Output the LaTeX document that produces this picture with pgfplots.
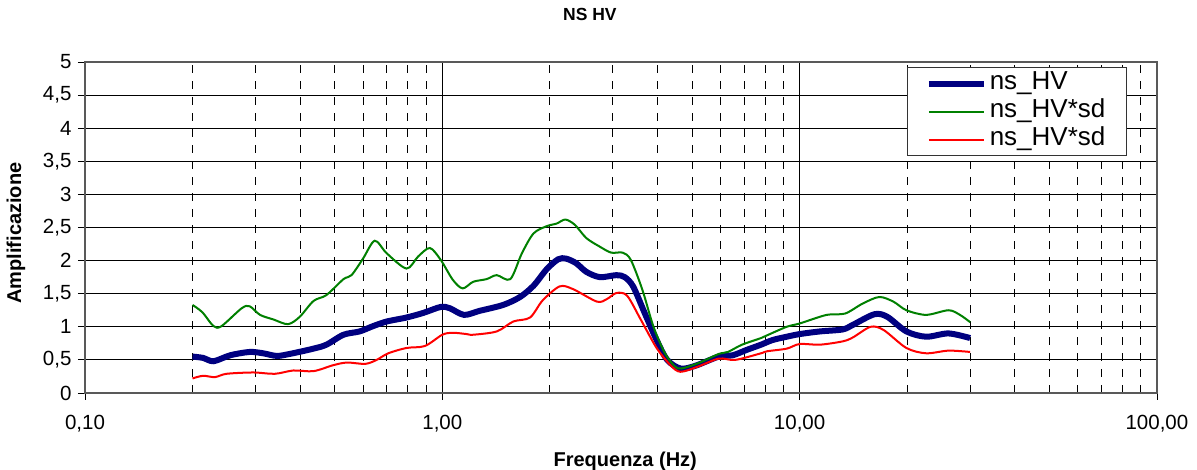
\documentclass[border=0pt]{standalone}
\usepackage{fontspec}
\setmainfont{Liberation Sans}
\usepackage{pgfplots}
\pgfplotsset{compat=1.18}
\definecolor{navy}{RGB}{0,0,128}
\definecolor{exgreen}{RGB}{0,128,0}
\definecolor{exred}{RGB}{255,0,0}
\begin{document}
\begin{tikzpicture}
\useasboundingbox (-85pt,-77pt) rectangle (1112pt,393pt);
\begin{axis}[
  at={(0pt,0pt)}, anchor=south west,
  scale only axis, width=1072pt, height=331pt,
  xmode=log, xmin=0.1, xmax=100, ymin=0, ymax=5,
  xtick={0.1,1,10,100},
  xticklabels={{0,10},{1,00},{10,00},{100,00}},
  minor xtick={0.2,0.3,0.4,0.5,0.6,0.7,0.8,0.9,2,3,4,5,6,7,8,9,20,30,40,50,60,70,80,90},
  ytick={0,0.5,1,1.5,2,2.5,3,3.5,4,4.5,5},
  /pgf/number format/.cd, use comma, assume math mode=true, /pgfplots/.cd,
  xmajorgrids, xminorgrids, ymajorgrids,
  major grid style={black, line width=0.9pt},
  minor grid style={black, line width=0.9pt, dash pattern=on 8pt off 8pt},
  tick align=outside, tick pos=left,
  major tick length=7pt, minor tick length=0pt,
  major tick style={black, line width=0.9pt},
  axis line style={draw=gray!70!black, line width=1.6pt},
  tick label style={font=\fontsize{20.5}{24}\selectfont},
  xticklabel style={yshift=-12pt},
  yticklabel style={xshift=-3pt},
  title={NS HV},
  title style={font=\fontsize{17.5}{20}\selectfont\bfseries, at={(axis description cs:0.471,1.125)}, anchor=center},
  xlabel={Frequenza (Hz)},
  xlabel style={font=\fontsize{20}{24}\selectfont\bfseries, at={(axis description cs:0.504,-0.2054)}, anchor=center},
  ylabel={Amplificazione},
  ylabel style={font=\fontsize{20}{24}\selectfont\bfseries, at={(axis description cs:-0.0644,0.483)}, anchor=center, rotate=0},
  legend style={at={(axis description cs:0.767,0.985)}, anchor=north west,
    draw=black!80, line width=1.2pt, fill=white,
    font=\fontsize{26}{30}\selectfont,
    inner xsep=18pt, inner ysep=2pt, row sep=0pt,
    nodes={inner ysep=2pt, inner xsep=3pt, text height=18pt, text depth=6pt},
    cells={anchor=west}},
  legend image code/.code={\draw[#1] (0pt,0pt) -- (55pt,0pt);},
]
\addplot[navy, line width=6pt, smooth, tension=0.5] coordinates {
(0.2,0.55)(0.214,0.53)(0.229,0.48)(0.255,0.57)(0.289,0.62)(0.315,0.60)(0.344,0.56)(0.374,0.59)
(0.436,0.67)(0.474,0.73)(0.529,0.88)(0.587,0.93)(0.64,1.01)(0.699,1.08)(0.794,1.14)(0.885,1.21)
(0.99,1.30)(1.05,1.28)(1.15,1.18)(1.27,1.24)(1.48,1.33)(1.65,1.45)(1.80,1.62)(1.96,1.87)
(2.11,2.02)(2.22,2.03)(2.37,1.96)(2.53,1.83)(2.76,1.75)(3.07,1.78)(3.24,1.75)(3.42,1.61)
(3.69,1.20)(3.98,0.80)(4.26,0.50)(4.64,0.37)(5.1,0.41)(5.94,0.55)(6.5,0.57)(7.1,0.65)
(7.8,0.73)(8.4,0.80)(9.2,0.85)(10,0.89)(11.4,0.93)(13.2,0.96)(14.1,1.03)(16.2,1.19)
(17.6,1.15)(19.9,0.93)(22.6,0.85)(26.1,0.90)(30,0.83)
};
\addlegendentry{ns\_HV}
\addplot[exgreen, line width=2pt, smooth, tension=0.5] coordinates {
(0.2,1.33)(0.213,1.22)(0.229,1.01)(0.241,1.01)(0.2745,1.28)(0.289,1.31)(0.309,1.18)(0.337,1.11)
(0.37,1.04)(0.399,1.15)(0.436,1.39)(0.474,1.48)(0.529,1.72)(0.557,1.78)(0.6,2.03)(0.647,2.30)
(0.699,2.11)(0.794,1.88)(0.855,2.06)(0.923,2.19)(0.99,2.01)(1.07,1.71)(1.14,1.58)(1.22,1.68)
(1.33,1.72)(1.42,1.78)(1.55,1.72)(1.67,2.11)(1.80,2.41)(1.96,2.52)(2.09,2.56)(2.21,2.62)
(2.35,2.54)(2.53,2.34)(2.76,2.21)(2.97,2.12)(3.2,2.12)(3.37,2.01)(3.63,1.56)(3.9,1.00)
(4.2,0.60)(4.48,0.40)(4.67,0.37)(5.2,0.45)(5.94,0.59)(6.3,0.62)(6.9,0.73)(7.8,0.83)
(8.1,0.87)(9.2,1.00)(10,1.05)(11.9,1.18)(13.4,1.20)(15,1.35)(16.7,1.45)(18.3,1.38)
(19.9,1.25)(22.6,1.18)(26.1,1.25)(28.1,1.18)(30,1.07)
};
\addlegendentry{ns\_HV*sd}
\addplot[exred, line width=2pt, smooth, tension=0.5] coordinates {
(0.2,0.22)(0.214,0.26)(0.231,0.24)(0.249,0.29)(0.296,0.31)(0.34,0.29)(0.383,0.34)(0.436,0.33)
(0.495,0.42)(0.541,0.46)(0.609,0.44)(0.655,0.50)(0.706,0.60)(0.794,0.68)(0.894,0.71)(1.0,0.88)
(1.07,0.91)(1.17,0.89)(1.22,0.88)(1.42,0.93)(1.58,1.08)(1.76,1.14)(1.91,1.40)(2.13,1.61)
(2.32,1.57)(2.71,1.38)(2.89,1.42)(3.07,1.51)(3.29,1.47)(3.6,1.10)(3.98,0.68)(4.35,0.42)
(4.64,0.32)(5.2,0.40)(5.94,0.52)(6.6,0.50)(7.8,0.60)(8.1,0.63)(9.2,0.67)(10,0.74)
(11.4,0.73)(13.2,0.78)(14.1,0.84)(15.8,1.00)(17.2,0.95)(19.9,0.68)(22.6,0.60)(26.1,0.64)
(30,0.62)
};
\addlegendentry{ns\_HV*sd}
\end{axis}
\end{tikzpicture}
\end{document}
